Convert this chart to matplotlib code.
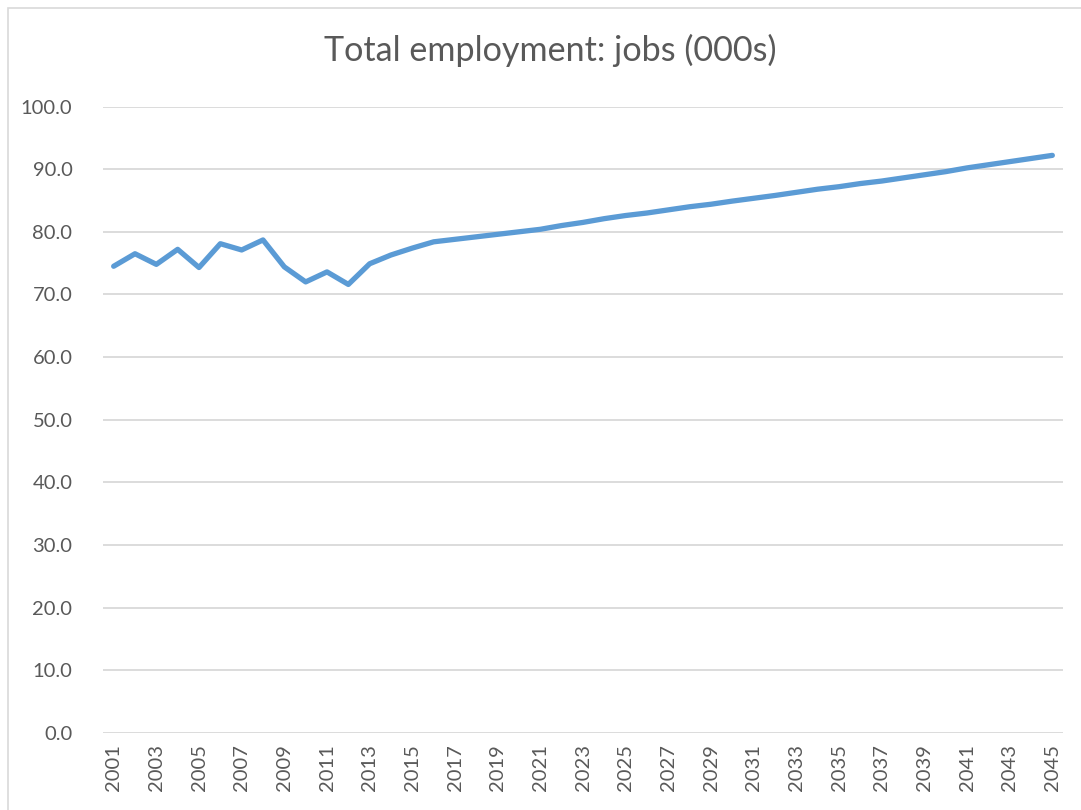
import matplotlib.pyplot as plt
from matplotlib.patches import Rectangle

years = list(range(2001, 2046))
jobs = [74.5, 76.5, 74.8, 77.2, 74.3, 78.1, 77.1, 78.7, 74.4, 72.0,
        73.6, 71.6, 74.9, 76.3, 77.4, 78.4, 78.8, 79.2, 79.6, 80.0,
        80.4, 81.0, 81.5, 82.1, 82.6, 83.0, 83.5, 84.0, 84.4, 84.9,
        85.35, 85.8, 86.3, 86.8, 87.2, 87.7, 88.1, 88.6, 89.1, 89.6,
        90.2, 90.7, 91.2, 91.7, 92.2]
yticks = [0, 10, 20, 30, 40, 50, 60, 70, 80, 90, 100]
title = "Total employment: jobs (000s)"

text_col = "#595959"
grid_col = "#D9D9D9"
line_col = "#5B9BD5"

plt.rcParams['font.family'] = ['Lato', 'DejaVu Sans']

fig = plt.figure(figsize=(10.81, 8.10), dpi=100)
fig.patches.append(Rectangle((8 / 1081, -0.05), 1.1, 0.05 + 1 - 7.5 / 810,
                             transform=fig.transFigure, fill=False,
                             edgecolor=grid_col, linewidth=1.2))

ax = fig.add_axes([103 / 1081, 1 - 733 / 810, 960 / 1081, (733 - 106.5) / 810])
x = list(range(len(years)))
ax.plot(x, jobs, color=line_col, lw=3.8, solid_capstyle='round',
        solid_joinstyle='round', zorder=3)

ax.set_xlim(-0.5, len(years) - 0.5)
ax.set_ylim(0, 100)
ax.set_yticks(yticks)
ax.set_yticklabels([f"{v:.1f}" for v in yticks])
ax.set_xticks(x[::2])
ax.set_xticklabels([str(y) for y in years[::2]], rotation=90)

ax.grid(axis='y', color=grid_col, linewidth=1.3)
ax.set_axisbelow(True)
for s in ax.spines.values():
    s.set_visible(False)
ax.tick_params(axis='both', length=0, labelsize=14.5, labelcolor=text_col)
ax.tick_params(axis='y', pad=22)
ax.tick_params(axis='x', pad=8)

fig.text(550 / 1081, 1 - 50 / 810, title, ha='center', va='center',
         fontsize=24.6, color=text_col)

fig.savefig("out.png", dpi=100)
